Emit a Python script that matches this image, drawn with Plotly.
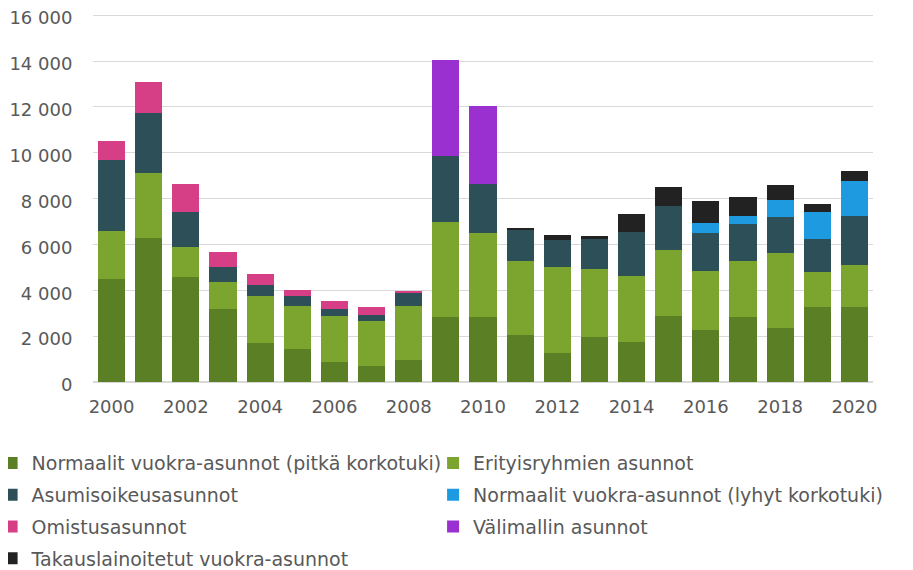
import plotly.graph_objects as go

years = list(range(2000, 2021))

# values (asuntoja / vuosi)
pitka = [4490, 6260, 4560, 3180, 1690, 1440, 860, 690, 960, 2840, 2840,
         2050, 1250, 1950, 1730, 2880, 2270, 2830, 2350, 3250, 3250]
erityis = [2080, 2860, 1330, 1190, 2040, 1890, 2020, 1950, 2370, 4140, 3660,
           3210, 3745, 2975, 2900, 2890, 2590, 2460, 3270, 1540, 1860]
asumisoikeus = [3130, 2620, 1510, 625, 510, 430, 300, 290, 550, 2870, 2120,
                1380, 1185, 1315, 1900, 1920, 1640, 1600, 1560, 1450, 2110]
lyhyt = [0, 0, 0, 0, 0, 0, 0, 0, 0, 0, 0,
         0, 0, 0, 0, 0, 435, 360, 770, 1180, 1530]
omistus = [800, 1340, 1240, 675, 490, 270, 360, 330, 100, 0, 0,
           0, 0, 0, 0, 0, 0, 0, 0, 0, 0]
valimalli = [0, 0, 0, 0, 0, 0, 0, 0, 0, 4210, 3410,
             0, 0, 0, 0, 0, 0, 0, 0, 0, 0]
takaus = [0, 0, 0, 0, 0, 0, 0, 0, 0, 0, 0,
          60, 230, 110, 810, 800, 945, 820, 630, 350, 470]

series = [
    ("Normaalit vuokra-asunnot (pitkä korkotuki)", pitka, "#5b7f24", "legend"),
    ("Erityisryhmien asunnot", erityis, "#7ba52f", "legend2"),
    ("Asumisoikeusasunnot", asumisoikeus, "#2c4f58", "legend"),
    ("Normaalit vuokra-asunnot (lyhyt korkotuki)", lyhyt, "#1e9be0", "legend2"),
    ("Omistusasunnot", omistus, "#d63f86", "legend"),
    ("Välimallin asunnot", valimalli, "#9b30d0", "legend2"),
    ("Takauslainoitetut vuokra-asunnot", takaus, "#222222", "legend"),
]

fig = go.Figure()
for i, (name, vals, col, leg) in enumerate(series):
    fig.add_trace(go.Bar(x=years, y=vals, name=name, marker_color=col,
                         marker_line_width=0, legend=leg, legendgroup=str(i)))

font = dict(family="DejaVu Sans, Verdana, sans-serif", size=18, color="#595959")
legfont = dict(family="DejaVu Sans, Verdana, sans-serif", size=19, color="#595959")

# page has an 8px body margin, so margins are offset by that
fig.update_layout(
    barmode="stack",
    bargap=0.27,
    width=913, height=570,
    margin=dict(l=85, r=48, t=6, b=196, autoexpand=False),
    plot_bgcolor="white", paper_bgcolor="white",
    font=font,
    showlegend=True,
    separators=", ",
    legend=dict(x=-0.13, y=-0.169, xanchor="left", yanchor="top",
                tracegroupgap=4, font=legfont, itemwidth=30,
                bgcolor="rgba(0,0,0,0)"),
    legend2=dict(x=0.436, y=-0.169, xanchor="left", yanchor="top",
                 tracegroupgap=4, font=legfont, itemwidth=30,
                 bgcolor="rgba(0,0,0,0)"),
)
fig.update_xaxes(tickvals=years[::2], ticks="outside", ticklen=8,
                 tickcolor="rgba(0,0,0,0)", showgrid=False, showline=False,
                 range=[1999.5, 2020.5], automargin=False)
fig.update_yaxes(range=[0, 16050], tickvals=list(range(0, 16001, 2000)),
                 tickformat=",d", showgrid=True, gridcolor="#d9d9d9",
                 gridwidth=1, zeroline=True, zerolinecolor="#d9d9d9",
                 ticks="outside", ticklen=16, tickcolor="rgba(0,0,0,0)",
                 ticklabeloverflow="allow", ticklabelshift=3,
                 automargin=False)

fig.write_html("out.html")
